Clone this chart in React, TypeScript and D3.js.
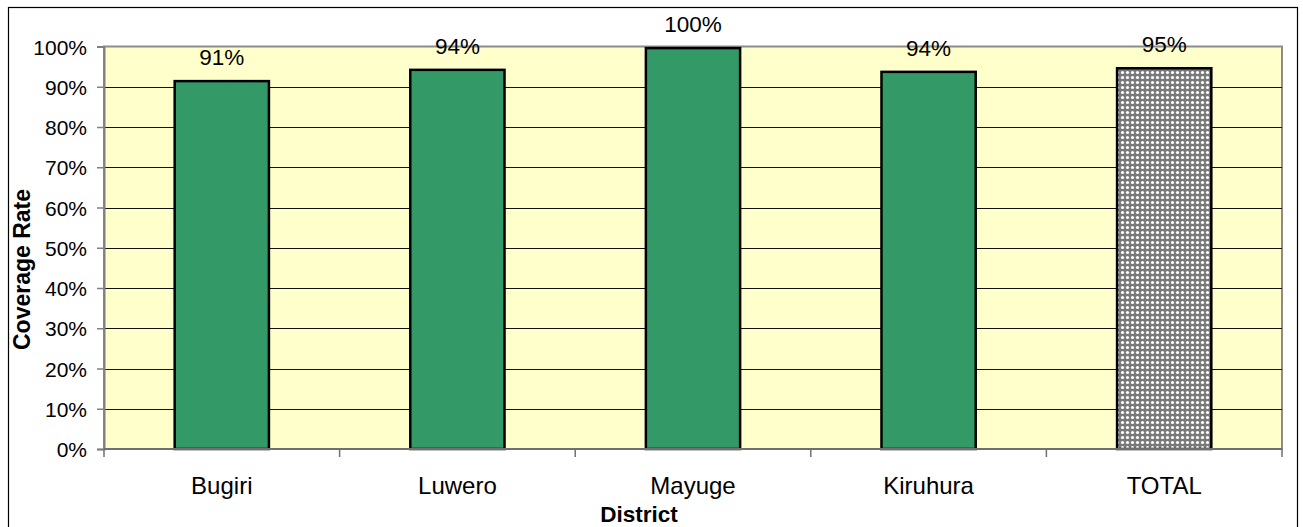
import React, { useEffect, useRef } from "react";
import * as d3 from "d3";

// Coverage rate by district, Excel-style bar chart drawn with D3.
const districts = ["Bugiri", "Luwero", "Mayuge", "Kiruhura", "TOTAL"];
const coverage = [0.914, 0.942, 0.996, 0.937, 0.946];
const yTicks = [0, 0.1, 0.2, 0.3, 0.4, 0.5, 0.6, 0.7, 0.8, 0.9, 1];

const FONT = "'Liberation Sans', Arial, sans-serif";

export default function App() {
  const ref = useRef<SVGSVGElement | null>(null);

  useEffect(() => {
    const svg = d3.select(ref.current);
    svg.selectAll("*").remove();

    const plot = { left: 104, right: 1282, top: 46.5, bottom: 449 };

    const x = d3
      .scaleBand<string>()
      .domain(districts)
      .range([plot.left, plot.right])
      .padding(0);
    const y = d3.scaleLinear().domain([0, 1]).range([plot.bottom, plot.top]);
    const bw = x.bandwidth();

    // dotted pattern for the TOTAL bar
    const defs = svg.append("defs");
    const pat = defs
      .append("pattern")
      .attr("id", "dots")
      .attr("patternUnits", "userSpaceOnUse")
      .attr("width", 5)
      .attr("height", 5);
    pat.append("rect").attr("width", 5).attr("height", 5).attr("fill", "#7a7a7a");
    pat.append("circle").attr("cx", 2.5).attr("cy", 2.5).attr("r", 1.6).attr("fill", "#fff");

    // outer chart border
    svg
      .append("rect")
      .attr("x", 8.5)
      .attr("y", 7.5)
      .attr("width", 1289)
      .attr("height", 540)
      .attr("fill", "#fff")
      .attr("stroke", "#000")
      .attr("stroke-width", 1.2);

    // plot area
    svg
      .append("rect")
      .attr("x", plot.left)
      .attr("y", plot.top)
      .attr("width", plot.right - plot.left)
      .attr("height", plot.bottom - plot.top)
      .attr("fill", "#ffffcc")
      .attr("stroke", "#8c8c8c")
      .attr("stroke-width", 2);

    // gridlines
    svg
      .append("g")
      .selectAll("line")
      .data(yTicks.filter((t) => t > 0 && t < 1))
      .join("line")
      .attr("x1", plot.left)
      .attr("x2", plot.right)
      .attr("y1", (d) => Math.round(y(d)) + 0.5)
      .attr("y2", (d) => Math.round(y(d)) + 0.5)
      .attr("stroke", "#111")
      .attr("stroke-width", 1);

    // bars
    svg
      .append("g")
      .selectAll("rect")
      .data(districts)
      .join("rect")
      .attr("x", (d) => (x(d) as number) + bw * 0.3)
      .attr("width", bw * 0.4)
      .attr("y", (d, i) => y(coverage[i]))
      .attr("height", (d, i) => plot.bottom - y(coverage[i]))
      .attr("fill", (d) => (d === "TOTAL" ? "url(#dots)" : "#339966"))
      .attr("stroke", "#000")
      .attr("stroke-width", 2.5);

    // value labels
    svg
      .append("g")
      .selectAll("text")
      .data(districts)
      .join("text")
      .attr("x", (d) => (x(d) as number) + bw / 2)
      .attr("y", (d, i) => y(coverage[i]) - 16)
      .attr("text-anchor", "middle")
      .attr("font-family", FONT)
      .attr("font-size", 22.5)
      .attr("fill", "#000")
      .text((d, i) => d3.format(".0%")(coverage[i]));

    // y axis
    const yAxis = svg
      .append("g")
      .attr("transform", `translate(${plot.left},0)`)
      .call(
        d3
          .axisLeft(y)
          .tickValues(yTicks)
          .tickSize(7)
          .tickPadding(10)
          .tickFormat(d3.format(".0%") as any)
      );
    yAxis.select(".domain").attr("stroke", "#808080").attr("stroke-width", 2);
    yAxis.selectAll(".tick line").attr("stroke", "#808080").attr("stroke-width", 1.5);
    yAxis
      .selectAll(".tick text")
      .attr("font-family", FONT)
      .attr("font-size", 21)
      .attr("fill", "#000")
      .attr("dy", "0.36em");

    // x axis line and category boundary ticks
    const xAxis = svg.append("g");
    xAxis
      .append("line")
      .attr("x1", plot.left)
      .attr("x2", plot.right)
      .attr("y1", plot.bottom)
      .attr("y2", plot.bottom)
      .attr("stroke", "#707070")
      .attr("stroke-width", 2);
    const bounds = districts.map((d) => x(d) as number).concat([plot.right]);
    xAxis
      .selectAll(".bt")
      .data(bounds)
      .join("line")
      .attr("x1", (d) => d)
      .attr("x2", (d) => d)
      .attr("y1", plot.bottom)
      .attr("y2", plot.bottom + 8)
      .attr("stroke", "#707070")
      .attr("stroke-width", 1.5);
    xAxis
      .selectAll(".cat")
      .data(districts)
      .join("text")
      .attr("x", (d) => (x(d) as number) + bw / 2)
      .attr("y", 494)
      .attr("text-anchor", "middle")
      .attr("font-family", FONT)
      .attr("font-size", 24)
      .attr("fill", "#000")
      .text((d) => d);

    // axis titles
    svg
      .append("text")
      .attr("x", 639)
      .attr("y", 521.5)
      .attr("text-anchor", "middle")
      .attr("font-family", FONT)
      .attr("font-weight", "bold")
      .attr("font-size", 22.5)
      .text("District");
    svg
      .append("text")
      .attr("transform", "translate(29.5,269.5) rotate(-90)")
      .attr("text-anchor", "middle")
      .attr("font-family", FONT)
      .attr("font-weight", "bold")
      .attr("font-size", 23)
      .text("Coverage Rate");
  }, []);

  return (
    <svg
      ref={ref}
      width={1303}
      height={527}
      style={{ position: "absolute", left: 0, top: 0, display: "block" }}
    />
  );
}
